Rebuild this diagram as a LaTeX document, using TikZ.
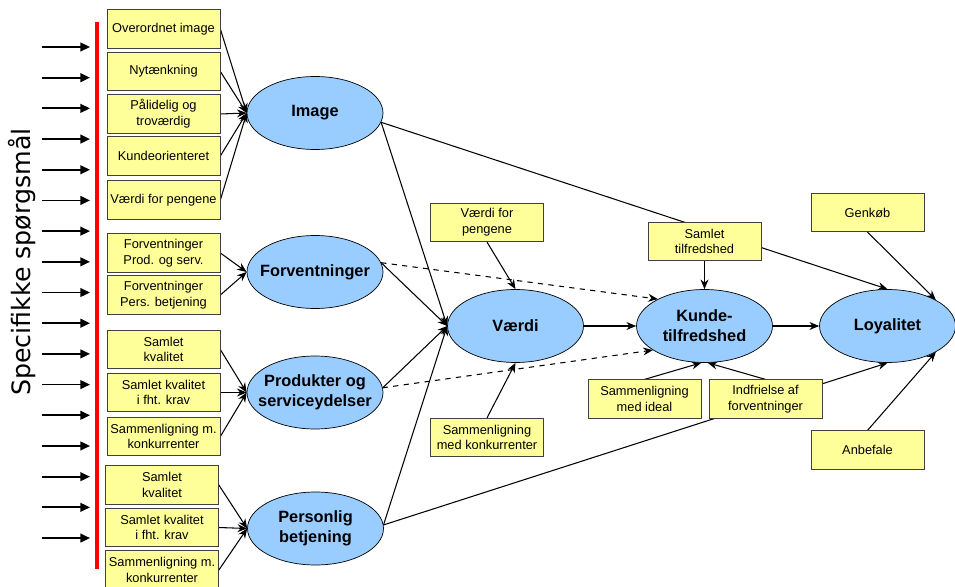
\documentclass[tikz,border=0pt]{standalone}
\usepackage{fontspec}
\setmainfont{Liberation Sans}
\newfontfamily\dejavu{DejaVu Sans}
\usetikzlibrary{shapes.geometric,arrows.meta,backgrounds}
\definecolor{boxgul}{HTML}{FFFF99}
\definecolor{ellblaa}{HTML}{99CCFF}
\tikzset{
  indik/.style={draw=black!75, fill=boxgul, minimum width=2.26cm, minimum height=0.77cm,
    inner sep=0pt, align=center, font=\fontsize{7.3}{9}\selectfont},
  konstrukt/.style={ellipse, draw, fill=ellblaa, minimum width=2.72cm, minimum height=1.46cm, inner sep=0pt},
  ktxt/.style={align=center, font=\bfseries\fontsize{9.3}{11.3}\selectfont},
  pil/.style={-{Stealth[length=5.5pt,width=4.5pt]}, line width=0.6pt},
  spmpil/.style={-{Triangle[length=5.5pt,width=5pt]}, line width=1pt}
}
\begin{document}
\begin{tikzpicture}[x=0.02cm, y=-0.02cm]
\useasboundingbox (0,0) rectangle (955,587);
% spoergsmaal til venstre
\node[rotate=90, font=\dejavu\fontsize{14.4}{17}\selectfont] (spm) at (22,262) {Specifikke spørgsmål};
\foreach \i in {0,...,16} {
  \coordinate (s\i) at (42,{47+30.69*\i});
  \coordinate (t\i) at (90,{47+30.69*\i});
  \draw[spmpil] (s\i) -- (t\i);
}
\draw[red, line width=2.3pt] (97,22) -- (97,569);

% indikatorer
\node[indik] (b1) at (163.5,29) {Overordnet image};
\node[indik] (b2) at (163.5,71.5) {Nytænkning};
\node[indik] (b3) at (163.5,114) {Pålidelig og\\troværdig};
\node[indik] (b4) at (163.5,156) {Kundeorienteret};
\node[indik] (b5) at (163.5,200) {Værdi for pengene};
\node[indik] (f1) at (163.5,253) {Forventninger\\Prod. og serv.};
\node[indik] (f2) at (163.5,295) {Forventninger\\Pers. betjening};
\node[indik] (p1) at (163.5,349.5) {Samlet\\kvalitet};
\node[indik] (p2) at (163.5,392.5) {Samlet kvalitet\\i fht. krav};
\node[indik] (p3) at (163.5,436.5) {Sammenligning m.\\konkurrenter};
\node[indik] (q1) at (162,485) {Samlet\\kvalitet};
\node[indik] (q2) at (162,527.5) {Samlet kvalitet\\i fht. krav};
\node[indik] (q3) at (162,570) {Sammenligning m.\\konkurrenter};

\node[indik] (vpp) at (487,222.5) {Værdi for\\pengene};
\node[indik] (smk) at (487,437.5) {Sammenligning\\med konkurrenter};
\node[indik] (stf) at (704.5,241.5) {Samlet\\tilfredshed};
\node[indik] (smi) at (644.5,399) {Sammenligning\\med ideal};
\node[indik] (iaf) at (765.5,399) {Indfrielse af\\forventninger};
\node[indik] (gen) at (867.5,212.5) {Genkøb};
\node[indik] (anb) at (867.5,450) {Anbefale};

% konstrukter
\node[konstrukt] (img) at (315,113) {};
\node[ktxt] (imgt) at (img) {Image};
\node[konstrukt] (forv) at (315,272) {};
\node[ktxt] (forvt) at (forv) {Forventninger};
\node[konstrukt] (prod) at (315,392.5) {};
\node[ktxt] (prodt) at (prod) {Produkter og\\serviceydelser};
\node[konstrukt] (pers) at (315.5,528.5) {};
\node[ktxt] (perst) at (pers) {Personlig\\betjening};
\node[konstrukt] (vrd) at (515.5,326) {};
\node[ktxt] (vrdt) at (vrd) {Værdi};
\node[konstrukt] (kun) at (704.5,326) {};
\node[ktxt] (kunt) at (kun) {Kunde-\\tilfredshed};
\node[konstrukt] (loy) at (887.5,326) {};
\node[ktxt] (loyt) at (loy) {Loyalitet};

\begin{pgfonlayer}{background}
  \foreach \b in {b1,b2,b3,b4,b5}
    \draw[pil] (\b.east) -- (img.west);
  \foreach \b in {f1,f2}
    \draw[pil] (\b.east) -- (forv.west);
  \foreach \b in {p1,p2,p3}
    \draw[pil] (\b.east) -- (prod.west);
  \foreach \b in {q1,q2,q3}
    \draw[pil] (\b.east) -- (pers.west);
  \draw[pil] (img.-8) -- (vrd.west);
  \draw[pil] (img.-8) -- (loy.north);
  \draw[pil] (forv.8) -- (vrd.west);
  \draw[pil, dashed] (forv.8) -- (kun.150);
  \draw[pil] (prod.4) -- (vrd.west);
  \draw[pil, dashed] (prod.4) -- (kun.205);
  \draw[pil] (pers.3) -- (vrd.west);
  \draw[pil] (pers.3) -- (loy.south);
  \draw[pil] (vpp.south) -- (vrd.north);
  \draw[pil] (smk.north) -- (vrd.south);
  \draw[pil] (vrd.east) -- (kun.west);
  \draw[pil] (stf.south) -- (kun.north);
  \draw[pil] (smi.north) -- (kun.-95);
  \draw[pil] (iaf.north) -- (kun.-85);
  \draw[pil] (kun.east) -- (loy.west);
  \draw[pil] (gen.south) -- (loy.north east);
  \draw[pil] (anb.north) -- (loy.south east);
\end{pgfonlayer}
\end{tikzpicture}
\end{document}
